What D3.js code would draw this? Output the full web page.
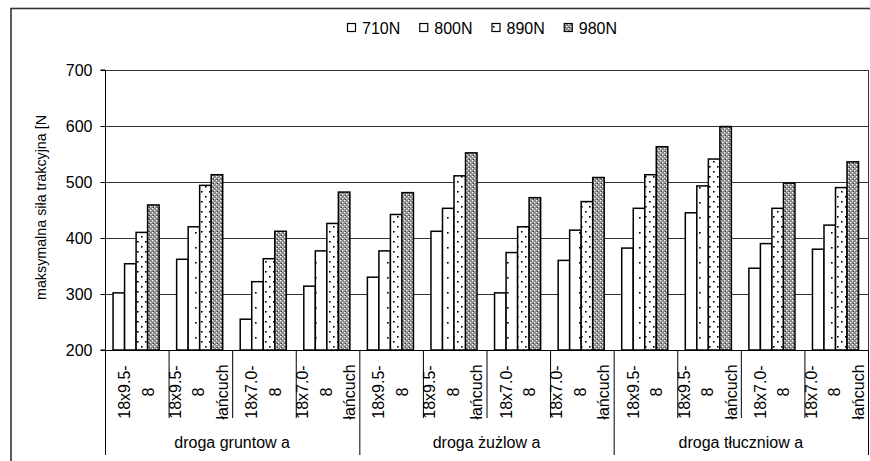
<!DOCTYPE html>
<html><head><meta charset="utf-8">
<script src="https://cdn.jsdelivr.net/npm/d3@7"></script>
<style>
body{margin:0;background:#fff;}
svg{display:block;font-family:"Liberation Sans",Arial,sans-serif;}
</style></head>
<body><svg id="c" width="870" height="461"></svg>
<script>
const series = ["710N","800N","890N","980N"];
const subLabels = [
  ["18x9.5-","8"],["18x9.5-","8","łańcuch"],["18x7.0-","8"],["18x7.0-","8","łańcuch"],
  ["18x9.5-","8"],["18x9.5-","8","łańcuch"],["18x7.0-","8"],["18x7.0-","8","łańcuch"],
  ["18x9.5-","8"],["18x9.5-","8","łańcuch"],["18x7.0-","8"],["18x7.0-","8","łańcuch"]
];
const groupLabels = ["droga gruntow a","droga żużlow a","droga tłuczniow a"];
const v710 = [302, 362, 255, 314, 330, 412, 302, 360, 382, 445, 346, 380];
const v800 = [354, 420, 322, 377, 377, 453, 374, 414, 453, 493, 390, 423];
const v890 = [410, 494, 363, 426, 442, 511, 420, 465, 513, 541, 453, 490];
const v980 = [459, 513, 412, 482, 481, 552, 472, 508, 563, 599, 498, 536];
const yTicks = [200,300,400,500,600,700];
const yTitle = "maksymalna siła trakcyjna [N";

const values = [v710, v800, v890, v980];
const svg = d3.select("#c");
const L = 105, R = 868, T = 70, B = 350;

// patterns
const defs = svg.append("defs");
const p1 = defs.append("pattern").attr("id","p800").attr("patternUnits","userSpaceOnUse").attr("width",12).attr("height",15);
p1.append("rect").attr("width",12).attr("height",15).attr("fill","#fff");
p1.append("rect").attr("x",3).attr("y",7).attr("width",1.6).attr("height",1.6).attr("fill","#000");
const p2 = defs.append("pattern").attr("id","p890").attr("patternUnits","userSpaceOnUse").attr("width",8).attr("height",10);
p2.append("rect").attr("width",8).attr("height",10).attr("fill","#fff");
p2.append("rect").attr("x",1).attr("y",1).attr("width",1.6).attr("height",1.6).attr("fill","#000");
p2.append("rect").attr("x",5).attr("y",6).attr("width",1.6).attr("height",1.6).attr("fill","#000");
const p3 = defs.append("pattern").attr("id","p980").attr("patternUnits","userSpaceOnUse").attr("width",4).attr("height",4);
p3.append("rect").attr("width",4).attr("height",4).attr("fill","#8a8a8a");
p3.append("rect").attr("x",0).attr("y",0).attr("width",1.3).attr("height",1.3).attr("fill","#fff");
p3.append("rect").attr("x",2).attr("y",2).attr("width",1.3).attr("height",1.3).attr("fill","#fff");
p3.append("rect").attr("x",1).attr("y",3).attr("width",1).attr("height",1).attr("fill","#333");
const fills = ["#fff","url(#p800)","url(#p890)","url(#p980)"];

// outer border
svg.append("rect").attr("x",11).attr("y",8.5).attr("width",1000).attr("height",600)
  .attr("fill","none").attr("stroke","#333").attr("stroke-width",1.6);

const x0 = d3.scaleBand().domain(d3.range(12)).range([L,R]).padding(0);
const x1 = d3.scaleBand().domain(series).range([0,x0.bandwidth()]).paddingInner(0).paddingOuter(0.76).align(0.46);
const y = d3.scaleLinear().domain([200,700]).range([B,T]);

// gridlines
svg.append("g").selectAll("line").data(yTicks.slice(1)).join("line")
  .attr("x1",L).attr("x2",R).attr("y1",d=>Math.round(y(d))+0.5).attr("y2",d=>Math.round(y(d))+0.5)
  .attr("stroke","#333").attr("stroke-width",1);
// right border of plot
svg.append("line").attr("x1",R+0.5).attr("x2",R+0.5).attr("y1",T).attr("y2",B).attr("stroke","#333");

// bars
const gb = svg.append("g");
series.forEach((s,si)=>{
  gb.selectAll(null).data(values[si]).join("rect")
    .attr("x",(d,i)=>x0(i)+x1(s))
    .attr("y",d=>y(d))
    .attr("width",x1.bandwidth())
    .attr("height",d=>B-y(d))
    .attr("fill",fills[si]).attr("stroke","#000").attr("stroke-width",1.5);
});

// y axis
const ya = svg.append("g").attr("transform",`translate(${L+0.5},0)`)
  .call(d3.axisLeft(y).tickValues(yTicks).tickSize(5).tickPadding(8).tickFormat(d3.format("d")));
ya.select(".domain").attr("stroke","#000").attr("d",`M-5,${B}H0V${T}H-5`);
ya.selectAll(".tick line").attr("stroke","#000");
ya.selectAll("text").attr("font-size",16).attr("fill","#000").attr("font-family","Liberation Sans, Arial, sans-serif");

// x axis base line
svg.append("line").attr("x1",L).attr("x2",R).attr("y1",B+0.5).attr("y2",B+0.5).attr("stroke","#000").attr("stroke-width",1.2);
// sub dividers
svg.append("g").selectAll("line").data(d3.range(13)).join("line")
  .attr("x1",i=>(i<12?x0(i):R)+0.5).attr("x2",i=>(i<12?x0(i):R)+0.5)
  .attr("y1",B).attr("y2",i=>i%4===0?455:418).attr("stroke","#000");

// sub labels
const lg = svg.append("g").attr("font-size",16).attr("fill","#000");
subLabels.forEach((lines,i)=>{
  const cx = x0(i)+x0.bandwidth()/2 - (lines.length===3?1.5:0.5);
  lines.forEach((t,j)=>{
    const lx = cx + (j-(lines.length-1)/2)*23.5;
    lg.append("text").attr("transform",`translate(${lx},392) rotate(-90)`)
      .attr("text-anchor","middle").attr("dy","0.35em").text(t);
  });
});
// group labels
groupLabels.forEach((t,g)=>{
  svg.append("text").attr("x",(x0(g*4)+(g<2?x0(g*4+4):R))/2).attr("y",448)
    .attr("text-anchor","middle").attr("font-size",16).text(t);
});

// y title
svg.append("text").attr("transform","translate(41,207.5) rotate(-90)")
  .attr("text-anchor","middle").attr("dy","0.35em").attr("font-size",15)
  .attr("textLength",185).attr("lengthAdjust","spacingAndGlyphs").text(yTitle);

// legend
const leg = svg.append("g");
let lx = 347;
series.forEach((s,si)=>{
  leg.append("rect").attr("x",lx+0.5).attr("y",23.5).attr("width",8).attr("height",8)
    .attr("fill",fills[si]).attr("stroke","#000").attr("stroke-width",1.2);
  const t = leg.append("text").attr("x",lx+15).attr("y",33.5).attr("font-size",16).text(s);
  lx = lx + 15 + t.node().getComputedTextLength() + 19;
});
</script></body></html>
